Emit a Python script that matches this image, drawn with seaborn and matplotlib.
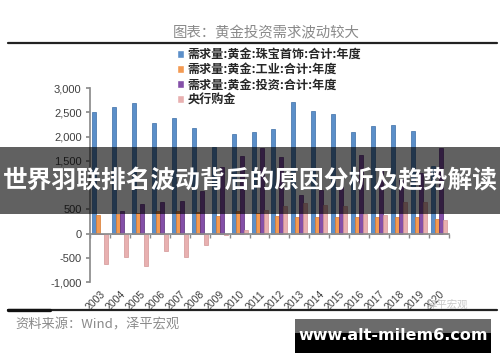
import matplotlib
matplotlib.use('Agg')
import matplotlib.pyplot as plt
import matplotlib.patches as mpatches
from matplotlib.lines import Line2D
from matplotlib.ticker import FuncFormatter
import numpy as np
import pandas as pd
import seaborn as sns

years = [str(y) for y in range(2003, 2021)]
jewelry = [2505, 2610, 2690, 2280, 2380, 2180, 1790, 2050, 2095, 2150,
           2710, 2525, 2460, 2095, 2220, 2240, 2115, 1400]
industrial = [390, 410, 430, 460, 460, 440, 370, 460, 430, 370,
              350, 350, 330, 330, 330, 330, 330, 300]
investment = [0, 470, 600, 655, 660, 880, 1380, 1600, 1770, 1580,
              800, 900, 960, 1620, 1310, 1100, 1250, 1770]
central_bank = [-620, -475, -660, -365, -490, -235, -30, 80, 480, 575,
                630, 595, 575, 400, 390, 655, 640, 270]

series_names = ['需求量:黄金:珠宝首饰:合计:年度', '需求量:黄金:工业:合计:年度',
                '需求量:黄金:投资:合计:年度', '央行购金']
fills = ['#5b8fc9', '#f39a52', '#8450a8', '#e8b0b0']
edges = ['#3c6ea6', '#d77a30', '#5a2c7e', '#d39595']

df = pd.DataFrame({
    'year': years * 4,
    'series': sum([[s] * len(years) for s in series_names], []),
    'value': jewelry + industrial + investment + central_bank,
})

sns.set_theme(style='white')
plt.rcParams['font.family'] = ['Noto Sans CJK SC', 'DejaVu Sans']
plt.rcParams['axes.unicode_minus'] = False

fig = plt.figure(figsize=(5, 3.62), dpi=100)
ax = fig.add_axes([0.18, 80 / 362, 0.718, 194 / 362])

sns.barplot(data=df, x='year', y='value', hue='series', hue_order=series_names,
            palette=dict(zip(series_names, fills)), saturation=1, width=0.8,
            ax=ax, legend=True)
for cont, ec in zip(ax.containers, edges):
    for bar in cont:
        bar.set_edgecolor(ec)
        bar.set_linewidth(0.5)

ax.set_xlim(-0.5, 17.5)
ax.set_ylim(-1000, 3000)
ax.set_yticks(range(-1000, 3001, 500))
# the 1,000 label sits under the banner in the reference
ax.yaxis.set_major_formatter(FuncFormatter(lambda v, p: '' if v == 1000 else f'{v:,.0f}'))
ax.set_xlabel('')
ax.set_ylabel('')

for s in ['top', 'right']:
    ax.spines[s].set_visible(False)
ax.spines['left'].set_color('#8c8c8c')
ax.spines['bottom'].set_color('#8c8c8c')
ax.spines['bottom'].set_position(('data', 0))

ax.set_xticks(range(len(years)))
ax.set_xticklabels(years, rotation=45, ha='right', rotation_mode='anchor')
ax.set_xticks(np.arange(-0.5, len(years), 1), minor=True)
ax.tick_params(axis='x', which='major', length=0, pad=40, labelsize=7.5,
               labelcolor='#404040', labelfontfamily='Liberation Sans')
ax.tick_params(axis='x', which='minor', bottom=True, length=3, color='#8c8c8c')
ax.tick_params(axis='y', left=True, length=3, color='#8c8c8c', labelsize=8,
               labelcolor='#404040', labelfontfamily='Liberation Sans', pad=3)

handles, labels = ax.get_legend_handles_labels()
ax.get_legend().remove()
fig.legend(handles, labels, loc='upper left', bbox_to_anchor=(177 / 500, 1 - 48 / 362),
           frameon=False, prop={'family': 'Noto Sans CJK SC', 'weight': 'bold', 'size': 8.7},
           handlelength=0.6, handleheight=0.6, handletextpad=0.3, labelspacing=0.18,
           borderaxespad=0, borderpad=0)

# header / footer
fig.text(266 / 500, 1 - 33 / 362, '图表：黄金投资需求波动较大', color='#8a8a8a',
         fontsize=10.4, ha='center', va='center')
fig.add_artist(Line2D([8 / 500, 497 / 500], [1 - 43 / 362] * 2, color='#222222', lw=1.6))
fig.add_artist(Line2D([8 / 500, 497 / 500], [1 - 310 / 362] * 2, color='#222222', lw=1.6))
fig.add_artist(Line2D([8 / 500, 50 / 500], [1 - 310 / 362] * 2, color='#111111', lw=2.4))
fig.text(15 / 500, 1 - 325 / 362, '资料来源：Wind，泽平宏观', color='#8a8a8a',
         fontsize=9.5, va='center')
fig.text(447 / 500, 1 - 305 / 362, '泽平宏观', color='#c8c8c8', fontsize=7.5,
         ha='center', va='center')

# overlay banner
fig.add_artist(mpatches.Rectangle((0, 1 - 214 / 362), 1, 67 / 362, transform=fig.transFigure,
                                  facecolor='black', alpha=0.62, lw=0, zorder=10))
fig.text(0.5, 1 - 181 / 362, '世界羽联排名波动背后的原因分析及趋势解读', color='white',
         fontsize=17.8, fontweight='bold', ha='center', va='center', zorder=11)

# watermark box
fig.add_artist(mpatches.Rectangle((295 / 500, 1 - 353 / 362), 196 / 500, 34 / 362,
                                  transform=fig.transFigure, facecolor='black', lw=0, zorder=10))
fig.add_artist(mpatches.Rectangle((295 / 500, 1 - 333 / 362), 196 / 500, 14 / 362,
                                  transform=fig.transFigure, facecolor='#6b6b6b', lw=0, zorder=10))
fig.text(393 / 500, 1 - 336 / 362, 'www.alt-milem6.com', color='white', fontsize=11.5,
         fontweight='bold', family='DejaVu Sans', ha='center', va='center', zorder=11)

fig.savefig('out.png', dpi=100)
